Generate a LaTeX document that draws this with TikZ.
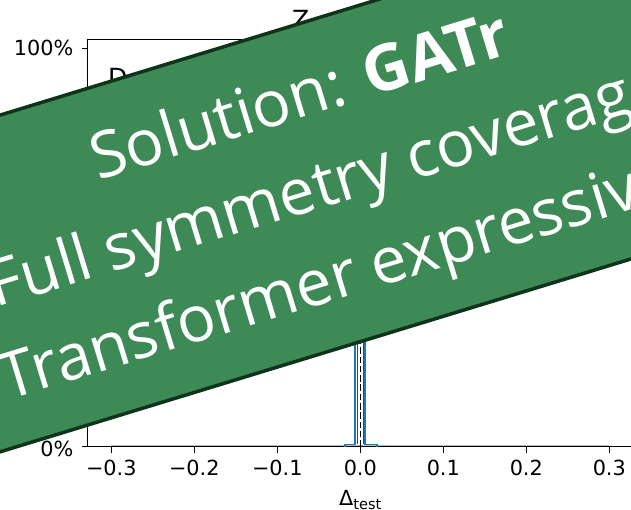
\documentclass[tikz,border=0pt]{standalone}
\usepackage{fontspec}
\setmainfont{DejaVu Sans}
\newfontfamily\bannerfont{Open Sans}
\definecolor{bannergreen}{HTML}{3D8A56}
\definecolor{bannerdark}{HTML}{10341A}
\definecolor{mplblue}{HTML}{1F77B4}
\tikzset{
  spine/.style={line width=1.4pt, black},
  tick/.style={line width=1.4pt, black},
  ticklabel/.style={font=\fontsize{20.8}{24}\selectfont, inner sep=0pt},
  titlelabel/.style={font=\fontsize{25}{30}\selectfont, inner sep=0pt},
  bannertext/.style={font=\bannerfont\fontsize{64}{72}\selectfont, text=white, inner sep=0pt, anchor=base}
}
\begin{document}
\begin{tikzpicture}[x=1pt,y=-1pt]
\clip (0,0) rectangle (631,510);
\fill[white] (0,0) rectangle (631,510);
% axes
\coordinate (tl) at (87.5,39.3);
\coordinate (bl) at (87.5,446.7);
\coordinate (br) at (700,446.7);
\coordinate (tr) at (700,39.3);
\draw[spine] (tr) -- (tl) -- (bl) -- (br);
% y ticks
\foreach \yy/\lab/\base in {48.3/100\%/55.8, 446.7/0\%/456.3}{
  \draw[tick] (82,\yy) -- (87.5,\yy);
  \node[ticklabel, anchor=base east] at (73.5,\base) {\lab};
}
% x ticks
\foreach \xx/\lab in {111.3/−0.3, 194.3/−0.2, 277.3/−0.1, 360.3/0.0, 443.3/0.1, 526.3/0.2, 609.3/0.3}{
  \draw[tick] (\xx,446.7) -- (\xx,452.5);
  \node[ticklabel, anchor=base] at (\xx,475.5) {\lab};
}
\node[ticklabel, anchor=base] (xlab) at (360.3,505) {Δ\raisebox{-4pt}{\fontsize{14.6}{16}\selectfont test}};
% title and text fragments
\node[titlelabel, anchor=base west] (ttl) at (292,29) {Z};
\node[titlelabel, anchor=base west] (dtxt) at (108,87) {D};
% histogram
\draw[gray!55, line width=1pt] (111.3,445.2) -- (609.3,445.2);
\draw[mplblue, line width=1.3pt] (345,446.7) -- (345,444.3) -- (355,444.3) -- (355,250) (365,250) -- (365,444.3) -- (377,444.3) -- (377,446.7);
\draw[black!75, line width=0.8pt] (357,444) -- (357,250) (363.3,250) -- (363.3,444);
\draw[black, line width=1.6pt, dash pattern=on 6.5pt off 2.8pt] (360.3,446.7) -- (360.3,250);
% banner
\begin{scope}[shift={(0,283.5)}, rotate=17, transform shape]
  \filldraw[fill=bannergreen, draw=bannerdark, line width=3.5pt] (-300,-161) rectangle (1100,161);
  \node[bannertext] (l1) at (341,-70) {Solution: \textbf{GATr}};
  \node[bannertext] (l2) at (341,22) {Full symmetry coverage};
  \node[bannertext] (l3) at (341,114) {Transformer expressivity};
\end{scope}
\end{tikzpicture}
\end{document}
